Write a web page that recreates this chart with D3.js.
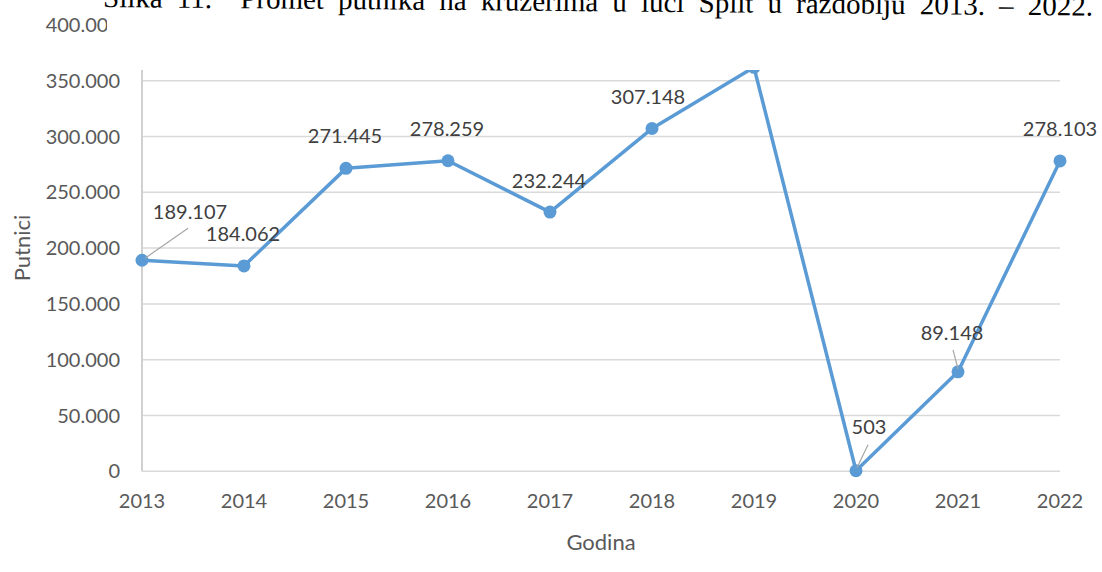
<!DOCTYPE html>
<html lang="hr">
<head>
<meta charset="utf-8">
<style>
  body { margin: 0; background: white; }
  svg { background: white; font-family: 'Lato', sans-serif; display: block; }
  .grid line { stroke: #d9d9d9; stroke-width: 1.5px; }
  .tick-label { fill: #595959; font-size: 20px; }
  .axis-title { fill: #595959; font-size: 22px; }
  .line { fill: none; stroke: #5b9bd5; stroke-width: 3.5px; stroke-linejoin: round; }
  .dot { fill: #5b9bd5; }
  .label { fill: #404040; font-size: 20px; text-anchor: middle; }
  .leader { stroke: #a6a6a6; stroke-width: 1.2px; }
  .caption { font-family: 'Liberation Serif', 'Times New Roman', serif; font-size: 29px; fill: #000; }
</style>
</head>
<body>
<svg width="1102" height="572"></svg>
<script src="https://cdn.jsdelivr.net/npm/d3@7"></script>
<script>
// podaci
var years = [2013, 2014, 2015, 2016, 2017, 2018, 2019, 2020, 2021, 2022];
var passengers = [189107, 184062, 271445, 278259, 232244, 307148, 362000, 503, 89148, 278103];
var yTicks = [0, 50000, 100000, 150000, 200000, 250000, 300000, 350000, 400000];
var caption = "Slika 11.  Promet putnika na kružerima u luci Split u razdoblju 2013. \u2013 2022.";

// label placement (offset from point), leader lines where Excel drew them
var labelOffsets = [[48, -48], [-1, -32], [-1, -32], [-1, -32], [-1, -31], [-4, -32], [0, -32], [13, -44], [-6, -39], [0, -32]];
var leaders = { 0: [[46, -32], [3, -2]], 7: [[12, -26], [1, -3]], 8: [[-5, -22], [0, -3]] };

var svg = d3.select("svg");
var hr = d3.formatLocale({ decimal: ",", thousands: ".", grouping: [3], currency: ["", " kn"] });
var fmt = hr.format(",d");

var x = d3.scalePoint().domain(years).range([142, 1060]);
var y = d3.scaleLinear().domain([0, 400000]).range([471.3, 24.9]);

// gridlines
svg.append("g").attr("class", "grid")
  .selectAll("line").data(yTicks).enter().append("line")
  .attr("x1", 142).attr("x2", 1060)
  .attr("y1", d => y(d)).attr("y2", d => y(d));

// vertical axis line
svg.append("line")
  .attr("x1", 142).attr("x2", 142)
  .attr("y1", y(400000)).attr("y2", y(0))
  .attr("stroke", "#d0d0d0").attr("stroke-width", 2);

// y tick labels
svg.append("g").selectAll("text").data(yTicks).enter().append("text")
  .attr("class", "tick-label")
  .attr("x", 120).attr("y", d => y(d)).attr("dy", "0.35em")
  .attr("text-anchor", "end")
  .text(d => fmt(d));

// x tick labels
svg.append("g").selectAll("text").data(years).enter().append("text")
  .attr("class", "tick-label")
  .attr("x", d => x(d)).attr("y", 508)
  .attr("text-anchor", "middle")
  .text(d => d);

// axis titles
svg.append("text").attr("class", "axis-title")
  .attr("x", 601).attr("y", 550).attr("text-anchor", "middle").text("Godina");
svg.append("text").attr("class", "axis-title")
  .attr("transform", "translate(30,248) rotate(-90)")
  .attr("text-anchor", "middle").text("Putnici");

// series
var line = d3.line().x((d, i) => x(years[i])).y(d => y(d));
svg.append("path").datum(passengers).attr("class", "line").attr("d", line);

svg.append("g").selectAll("circle").data(passengers).enter().append("circle")
  .attr("class", "dot")
  .attr("cx", (d, i) => x(years[i])).attr("cy", d => y(d)).attr("r", 6.5);

// leader lines
Object.keys(leaders).forEach(function (k) {
  var i = +k, px = x(years[i]), py = y(passengers[i]), l = leaders[k];
  svg.append("line").attr("class", "leader")
    .attr("x1", px + l[0][0]).attr("y1", py + l[0][1])
    .attr("x2", px + l[1][0]).attr("y2", py + l[1][1]);
});

// data labels
svg.append("g").selectAll("text").data(passengers).enter().append("text")
  .attr("class", "label")
  .attr("x", (d, i) => x(years[i]) + labelOffsets[i][0])
  .attr("y", (d, i) => y(d) + labelOffsets[i][1])
  .attr("dy", "0.35em")
  .text(d => fmt(d));

// the figure caption sits over the top of the chart (cropped, justified page text)
svg.append("rect").attr("x", 107).attr("y", 0).attr("width", 995).attr("height", 70).attr("fill", "white");
var cap = svg.append("text").attr("class", "caption")
  .attr("x", 103).attr("y", 7)
  .attr("transform", "rotate(0.5,103,7)")
  .style("white-space", "pre")
  .text(caption);
var natural = cap.node().getComputedTextLength();
var spaces = caption.split(" ").length - 1;
cap.style("word-spacing", Math.max(0, (990 - natural) / spaces) + "px");
</script>
</body>
</html>
